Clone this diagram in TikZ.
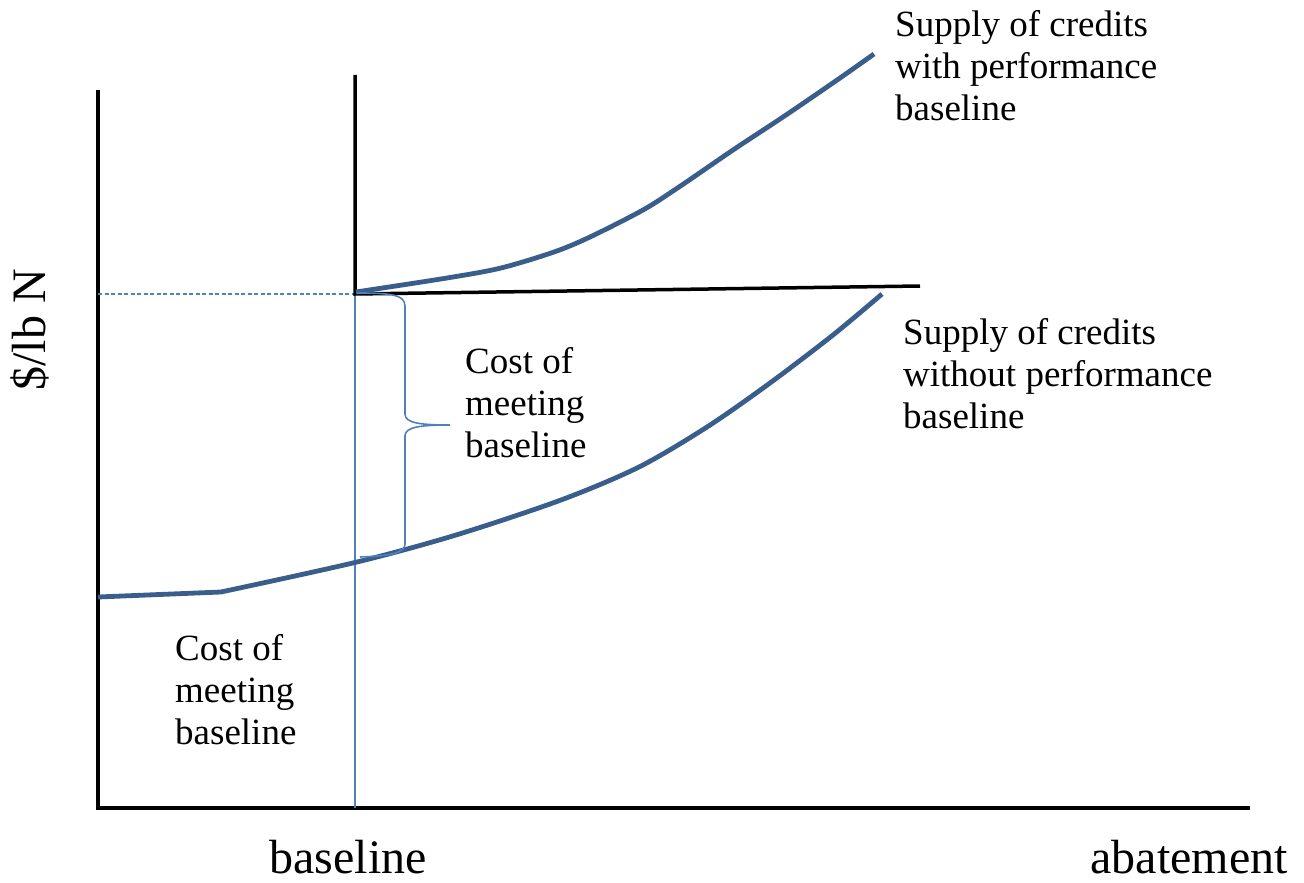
\documentclass[tikz,border=0pt]{standalone}
\usepackage{fontspec}
\setmainfont{Liberation Serif}
\definecolor{curveblue}{RGB}{58,94,140}
\definecolor{lightblue}{RGB}{79,129,189}
\begin{document}
\begin{tikzpicture}[x=1pt,y=-1pt,
  axis/.style={line width=4pt,black},
  blackline/.style={line width=3.5pt,black},
  curve/.style={line width=4.8pt,curveblue,line join=round},
  thinblue/.style={line width=1.6pt,lightblue},
  label/.style={inner sep=0pt,align=left,font=\fontsize{37}{42}\selectfont},
  biglabel/.style={inner sep=0pt,font=\fontsize{48}{52}\selectfont}]
\useasboundingbox (0,0) rectangle (1304,883);
% key points
\coordinate (origin) at (98,808);
\coordinate (ytop) at (98,90);
\coordinate (xend) at (1250,808);
\coordinate (bl) at (355,294);
\coordinate (bltop) at (355,75);
\coordinate (blbot) at (355,808);
\coordinate (hend) at (920,286);
\coordinate (yprice) at (98,294);
% axes
\draw[axis] (ytop) -- (origin) -- (xend);
% baseline verticals
\draw[thinblue] (bl) -- (blbot);
\draw[thinblue,dash pattern=on 4pt off 2.5pt] (yprice) -- (bl);
\draw[blackline] (bltop) -- (bl) -- (hend);
% upper curve
\draw[curve] plot[smooth,tension=0.5] coordinates {(356,292) (447,278) (501,268) (554,252) (590,237) (643,210) (679,187) (733,150) (786,115) (840,78) (874,54)};
% lower curve
\draw[curve] (98,597) -- plot[smooth,tension=0.5] coordinates {(221,592) (357,562) (456,535) (561,500) (639,467) (707,427) (770,383) (833,335) (882,294)};
% brace
\coordinate (btop) at (357,293);
\coordinate (btip) at (450,425);
\coordinate (bbot) at (360,557);
\draw[thinblue] (btop) .. controls (392,293) and (405,295) .. (405,306) -- (405,414)
  .. controls (405,423) and (420,425) .. (btip)
  .. controls (420,425) and (405,427) .. (405,436) -- (405,544)
  .. controls (405,553) and (390,556) .. (bbot);
% labels
\node[label,anchor=north west] (midtext) at (465,347) {Cost of\\meeting\\baseline};
\node[label,anchor=north west] (lowtext) at (175,634) {Cost of\\meeting\\baseline};
\node[label,anchor=north west] (uptext) at (895,10) {Supply of credits\\with performance\\baseline};
\node[label,anchor=north west] (dntext) at (903,318) {Supply of credits\\without performance\\baseline};
\node[biglabel,rotate=90,anchor=base] (ylab) at (45,330) {\$/lb N};
\node[biglabel,anchor=base] (xbase) at (348,873) {baseline};
\node[biglabel,anchor=base east] (xlab) at (1288,873) {abatement};
\end{tikzpicture}
\end{document}
